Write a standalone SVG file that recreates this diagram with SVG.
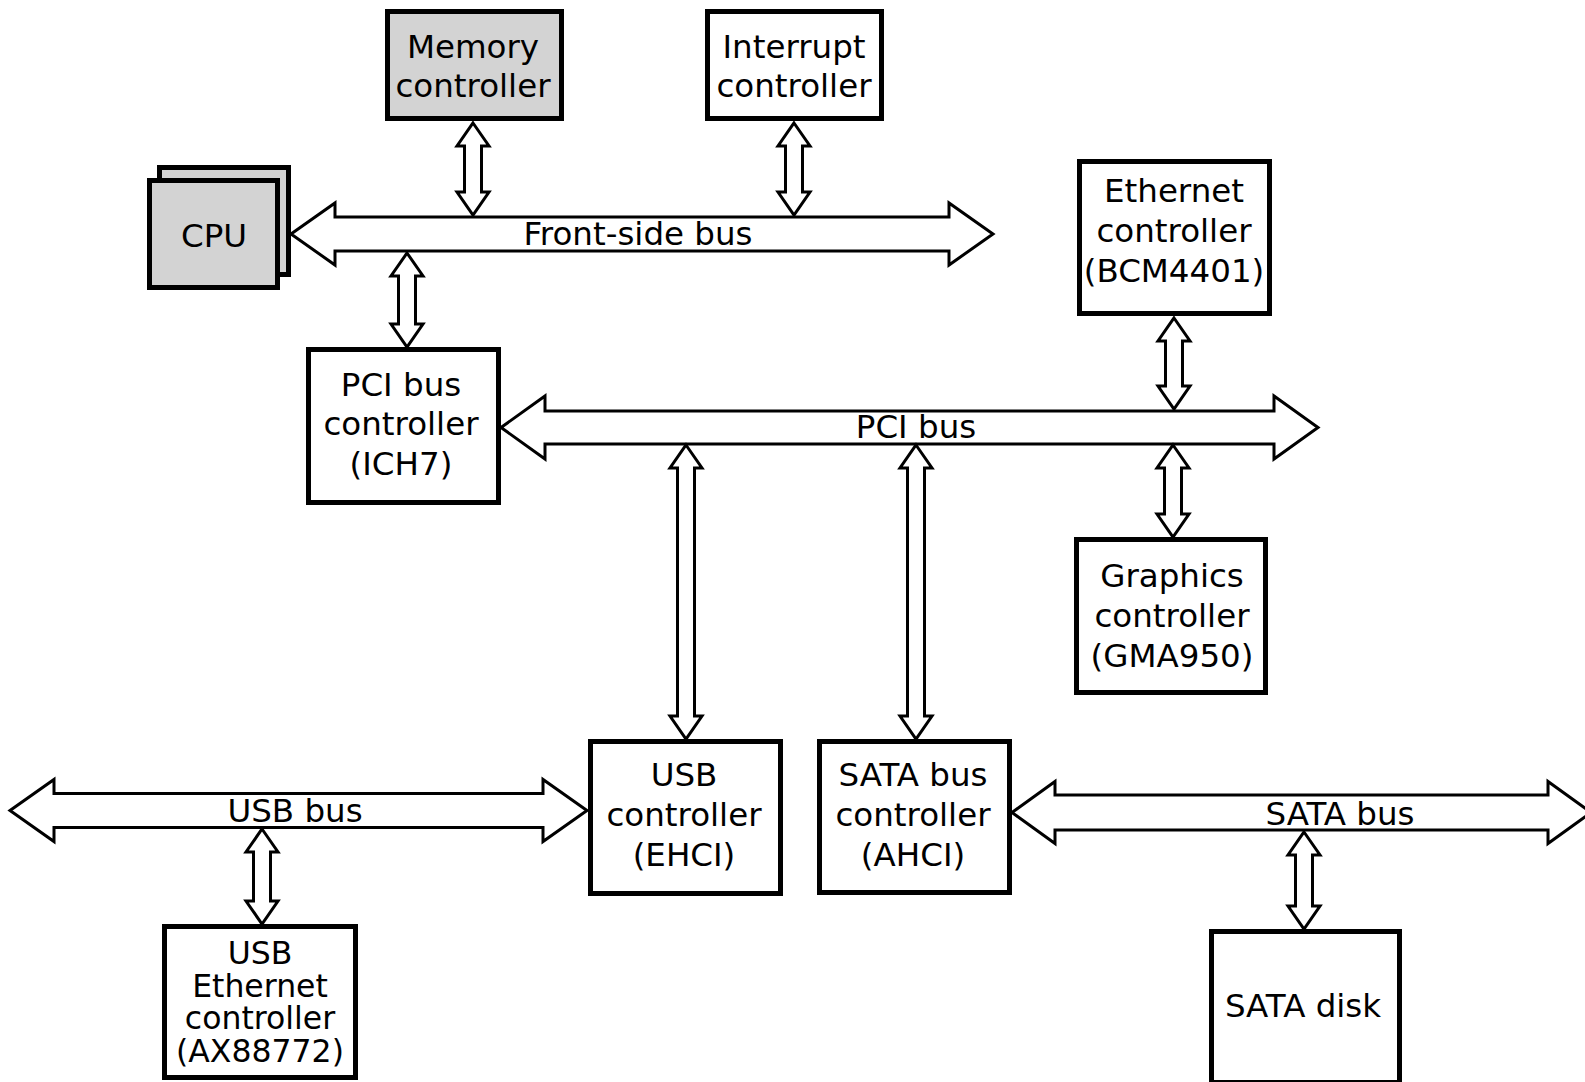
<svg xmlns="http://www.w3.org/2000/svg" width="1585" height="1082" viewBox="0 0 1585 1082">
<style>
.box{fill:#ffffff;stroke:#000000;stroke-width:5}
.grey{fill:#d3d3d3}
.arr{fill:#ffffff;stroke:#000000;stroke-width:3;stroke-linejoin:miter}
text{font-family:"DejaVu Sans","Liberation Sans",sans-serif;font-size:32.5px;fill:#000000;text-anchor:middle}
.tight{font-size:31.5px}
</style>
<rect width="1585" height="1082" fill="#ffffff"/>
<g id="connectors">
<path id="fsb" class="arr" d="M291,234 L335,203 L335,217 L949,217 L949,203 L993,234 L949,265 L949,251 L335,251 L335,265 Z"/>
<path id="pcibus" class="arr" d="M501,427.5 L545,396 L545,411 L1274,411 L1274,396 L1318,427.5 L1274,459 L1274,444 L545,444 L545,459 Z"/>
<path id="usbbus" class="arr" d="M10,810.5 L54,779.5 L54,793.5 L543,793.5 L543,779.5 L587,810.5 L543,841.5 L543,827.5 L54,827.5 L54,841.5 Z"/>
<path id="satabus" class="arr" d="M1012,812.5 L1055,781.5 L1055,795 L1548,795 L1548,781.5 L1591,812.5 L1548,843.5 L1548,830 L1055,830 L1055,843.5 Z"/>
<path id="a-mem" class="arr" d="M473,123 L489,146 L481.5,146 L481.5,192 L489,192 L473,215 L457,192 L464.5,192 L464.5,146 L457,146 Z"/>
<path id="a-int" class="arr" d="M794,123 L810,146 L802.5,146 L802.5,192 L810,192 L794,215 L778,192 L785.5,192 L785.5,146 L778,146 Z"/>
<path id="a-pcic" class="arr" d="M407,253 L423,276 L415.5,276 L415.5,324 L423,324 L407,347 L391,324 L398.5,324 L398.5,276 L391,276 Z"/>
<path id="a-eth" class="arr" d="M1174,318 L1190,341 L1182.5,341 L1182.5,386 L1190,386 L1174,409 L1158,386 L1165.5,386 L1165.5,341 L1158,341 Z"/>
<path id="a-gfx" class="arr" d="M1173,445 L1189,468 L1181.5,468 L1181.5,514 L1189,514 L1173,537 L1157,514 L1164.5,514 L1164.5,468 L1157,468 Z"/>
<path id="a-usbc" class="arr" d="M686,445 L702,468 L694.5,468 L694.5,716 L702,716 L686,739 L670,716 L677.5,716 L677.5,468 L670,468 Z"/>
<path id="a-satac" class="arr" d="M916,445 L932,468 L924.5,468 L924.5,716 L932,716 L916,739 L900,716 L907.5,716 L907.5,468 L900,468 Z"/>
<path id="a-usbeth" class="arr" d="M262,829 L278,852 L270.5,852 L270.5,901 L278,901 L262,924 L246,901 L253.5,901 L253.5,852 L246,852 Z"/>
<path id="a-disk" class="arr" d="M1304,832 L1320,855 L1312.5,855 L1312.5,906 L1320,906 L1304,929 L1288,906 L1295.5,906 L1295.5,855 L1288,855 Z"/>
<text x="638" y="245">Front-side bus</text>
<text x="916" y="438">PCI bus</text>
<text x="295" y="822">USB bus</text>
<text x="1340" y="825">SATA bus</text>
</g>
<g id="cpu">
<rect class="box grey" x="159.5" y="167.5" width="129" height="107"/>
<rect class="box grey" x="149.5" y="180.5" width="128" height="107"/>
<text x="214" y="247">CPU</text>
</g>
<g id="memory-controller">
<rect class="box grey" x="387.5" y="11.5" width="174" height="107"/>
<text x="473" y="58">Memory</text>
<text x="473" y="97">controller</text>
</g>
<g id="interrupt-controller">
<rect class="box" x="707.5" y="11.5" width="174" height="107"/>
<text x="794" y="58">Interrupt</text>
<text x="794" y="97">controller</text>
</g>
<g id="pci-bus-controller">
<rect class="box" x="308.5" y="349.5" width="190" height="153"/>
<text x="401" y="396">PCI bus</text>
<text x="401" y="435">controller</text>
<text x="401" y="475">(ICH7)</text>
</g>
<g id="ethernet-controller">
<rect class="box" x="1079.5" y="161.5" width="190" height="152"/>
<text x="1174" y="202">Ethernet</text>
<text x="1174" y="242">controller</text>
<text x="1174" y="282">(BCM4401)</text>
</g>
<g id="graphics-controller">
<rect class="box" x="1076.5" y="539.5" width="189" height="153"/>
<text x="1172" y="587">Graphics</text>
<text x="1172" y="627">controller</text>
<text x="1172" y="667">(GMA950)</text>
</g>
<g id="usb-controller">
<rect class="box" x="590.5" y="741.5" width="190" height="152"/>
<text x="684" y="786">USB</text>
<text x="684" y="826">controller</text>
<text x="684" y="866">(EHCI)</text>
</g>
<g id="sata-bus-controller">
<rect class="box" x="819.5" y="741.5" width="190" height="151"/>
<text x="913" y="786">SATA bus</text>
<text x="913" y="826">controller</text>
<text x="913" y="866">(AHCI)</text>
</g>
<g id="usb-ethernet-controller">
<rect class="box" x="164.5" y="926.5" width="191" height="151"/>
<text class="tight" x="260" y="964">USB</text>
<text class="tight" x="260" y="996.5">Ethernet</text>
<text class="tight" x="260" y="1029">controller</text>
<text class="tight" x="260" y="1061.5">(AX88772)</text>
</g>
<g id="sata-disk">
<rect class="box" x="1211.5" y="931.5" width="188" height="151"/>
<text x="1303" y="1017">SATA disk</text>
</g>
</svg>
